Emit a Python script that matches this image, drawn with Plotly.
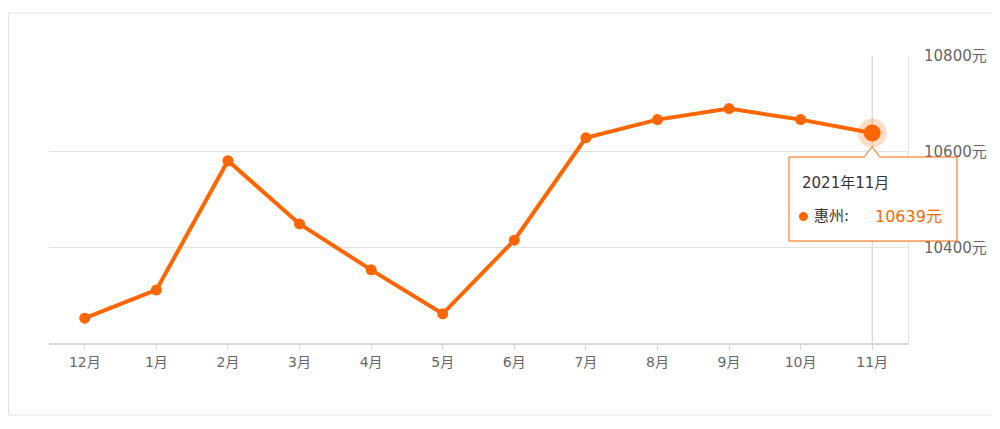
import plotly.graph_objects as go

months = ["12月", "1月", "2月", "3月", "4月", "5月", "6月", "7月", "8月", "9月", "10月", "11月"]
prices = [10252, 10311, 10581, 10449, 10353, 10261, 10415, 10629, 10667, 10690, 10667, 10639]
y_ticks = [10400, 10600, 10800]
y_tick_text = ["10400元", "10600元", "10800元"]
city = "惠州"
hover_month = "2021年11月"

ORANGE = "#ff6600"
FONT = "DejaVu Sans, Noto Sans CJK SC, sans-serif"

OFF = 8  # page body margin
W, H = 1000, 421
L, R, T, B = 41, 100, 48, 86
PW, PH = W - L - R, H - T - B


def px(x):
    return (x - OFF - L) / PW


def py(y):
    return (H - B - (y - OFF)) / PH


fig = go.Figure()
fig.add_trace(go.Scatter(
    x=months, y=prices, mode="lines+markers",
    line=dict(color=ORANGE, width=4),
    marker=dict(color=ORANGE, size=11),
    hoverinfo="skip", showlegend=False,
))
fig.add_trace(go.Scatter(
    x=[months[-1]], y=[prices[-1]], mode="markers",
    marker=dict(color="rgba(255,102,0,0.22)", size=29),
    hoverinfo="skip", showlegend=False,
))
fig.add_trace(go.Scatter(
    x=[months[-1]], y=[prices[-1]], mode="markers",
    marker=dict(color=ORANGE, size=17),
    hoverinfo="skip", showlegend=False,
))

shapes = []
# outer card border
shapes.append(dict(type="rect", xref="paper", yref="paper",
                   x0=px(8.5), x1=px(995), y0=py(415), y1=py(13),
                   line=dict(color="#e3e3e3", width=1), layer="below"))
# crosshair
shapes.append(dict(type="line", xref="x", yref="paper",
                   x0=len(months) - 1, x1=len(months) - 1, y0=0, y1=1,
                   line=dict(color="#cccccc", width=1), layer="below"))
# tooltip box with notch
l_, r_, t_, b_ = 789, 957, 157, 241
ax_, ay_ = 872, 147
path = (f"M {px(l_)},{py(t_)} L {px(864)},{py(t_)} L {px(ax_)},{py(ay_)} "
        f"L {px(880)},{py(t_)} L {px(r_)},{py(t_)} L {px(r_)},{py(b_)} "
        f"L {px(l_)},{py(b_)} Z")
shapes.append(dict(type="path", xref="paper", yref="paper", path=path,
                   fillcolor="white", line=dict(color=ORANGE, width=1), layer="above"))
# legend dot
shapes.append(dict(type="circle", xref="paper", yref="paper",
                   x0=px(799), x1=px(808), y0=py(221), y1=py(212),
                   fillcolor=ORANGE, line=dict(width=0), layer="above"))

annotations = [
    dict(xref="paper", yref="paper", x=px(800), y=py(183), text=hover_month,
         showarrow=False, xanchor="left", yanchor="middle",
         font=dict(family=FONT, size=15, color="#333333")),
    dict(xref="paper", yref="paper", x=px(812), y=py(216), text=f"{city}:",
         showarrow=False, xanchor="left", yanchor="middle",
         font=dict(family=FONT, size=15, color="#333333")),
    dict(xref="paper", yref="paper", x=px(873), y=py(216), text=f"{prices[-1]}元",
         showarrow=False, xanchor="left", yanchor="middle",
         font=dict(family=FONT, size=16, color=ORANGE)),
]

fig.update_layout(
    width=W, height=H,
    margin=dict(l=L, r=R, t=T, b=B),
    paper_bgcolor="white", plot_bgcolor="white",
    font=dict(family=FONT, size=14, color="#666666"),
    shapes=shapes, annotations=annotations,
    hovermode=False,
)
fig.update_xaxes(
    type="category", range=[-0.5, len(months) - 0.5],
    showgrid=False, showline=True, linecolor="#d9d9d9", linewidth=2,
    ticks="outside", ticklen=5, tickcolor="#d9d9d9",
    tickfont=dict(family=FONT, size=14, color="#666666"), fixedrange=True,
)
fig.update_yaxes(
    side="right", range=[10200, 10800],
    tickvals=y_ticks, ticktext=y_tick_text,
    showgrid=True, gridcolor="#e3e3e3", gridwidth=1,
    showline=True, linecolor="#e3e3e3", linewidth=1,
    zeroline=False, ticks="", ticklabelstandoff=12,
    tickfont=dict(family=FONT, size=15, color="#666666"), fixedrange=True,
)

fig.write_html("out.html")
